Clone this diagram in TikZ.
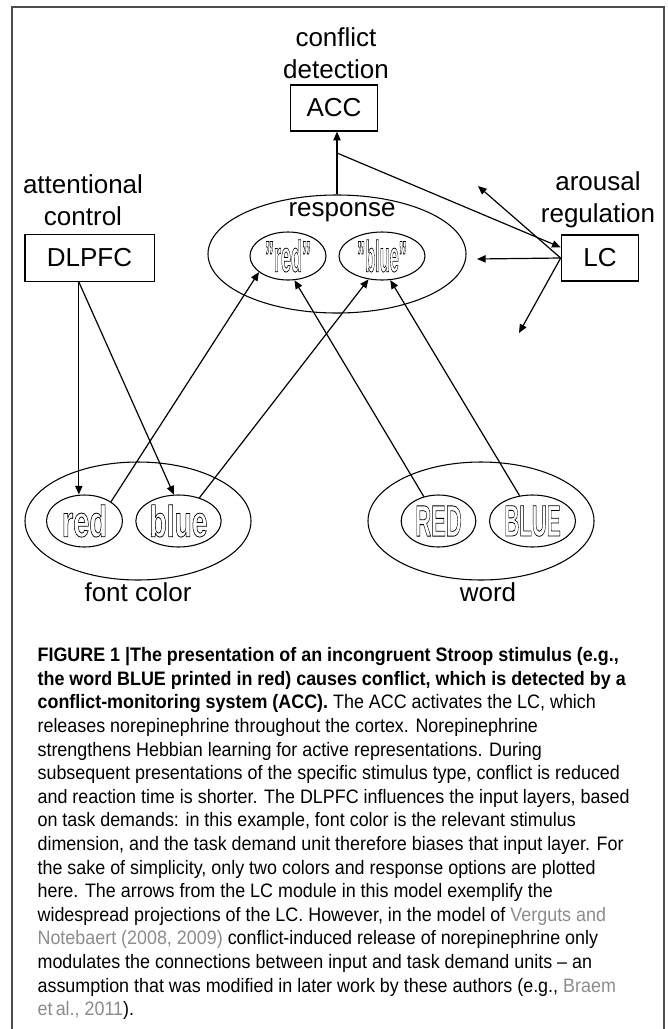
\documentclass[tikz,border=0pt]{standalone}
\usepackage{fontspec}
\setmainfont{Liberation Sans}
\newfontfamily\capfont[FakeStretch=0.92,Ligatures=TeX]{Liberation Sans}
\usepackage{graphicx}
\usetikzlibrary{arrows.meta,shapes.geometric}

\definecolor{citegray}{gray}{0.55}
\definecolor{framegray}{gray}{0.3}

\newcommand{\hollow}[2]{\scalebox{#1}[1]{\special{pdf:literal direct 1 Tr 0.6 w}#2\special{pdf:literal direct 0 Tr}}}

\tikzset{
  box/.style={draw, line width=1pt, inner sep=0pt},
  layer/.style={draw, ellipse, line width=0.8pt, inner sep=0pt, minimum width=169.5pt, minimum height=88.5pt},
  unit/.style={draw, ellipse, line width=0.8pt, inner sep=0pt},
  word/.style={font=\fontsize{33}{34}\selectfont\bfseries},
  lab/.style={align=center, font=\fontsize{19.5}{24}\selectfont},
}

\begin{document}
\begin{tikzpicture}[x=0.75pt, y=-0.75pt, line width=0.9pt, >={Triangle[length=6.5pt,width=5.5pt]}]
\useasboundingbox (0,0) rectangle (668,1029);
\draw[framegray, line width=1.1pt] (12,1029) -- (12,7) -- (664,7) -- (664,1029);

% top row
\node[lab] (acclab) at (336,53) {conflict\\detection};
\node[box, minimum width=65pt, minimum height=34.5pt, font=\fontsize{19.5}{22}\selectfont] (acc) at (334,108) {ACC};
\node[lab] (dlpfclab) at (83,200) {attentional\\control};
\node[box, minimum width=97pt, minimum height=35pt, font=\fontsize{19.5}{22}\selectfont] (dlpfc) at (89.5,258) {DLPFC};
\node[lab] (lclab) at (598,200) {arousal\\regulation};
\node[box, minimum width=58pt, minimum height=34.5pt, font=\fontsize{19.5}{22}\selectfont] (lc) at (600,258) {LC};

% response layer
\node[draw, ellipse, line width=0.8pt, minimum width=193.5pt, minimum height=88.5pt] (resp) at (337,254) {};
\node[lab] (resplab) at (342,212) {response};
\node[unit, minimum width=57pt, minimum height=36pt, label={[word]center:\hollow{0.41}{"red"}}] (rred) at (288,256) {};
\node[unit, minimum width=64.5pt, minimum height=36pt, label={[word]center:\hollow{0.37}{"blue"}}] (rblue) at (382,256) {};

% input layers
\node[layer] (font) at (138,521) {};
\node[unit, minimum width=57pt, minimum height=39pt, label={[word]center:\hollow{0.66}{red}}] (fred) at (84.5,521) {};
\node[unit, minimum width=64pt, minimum height=39pt, label={[word]center:\hollow{0.64}{blue}}] (fblue) at (178.5,521) {};
\node[lab] (fontlab) at (138,592) {font color};
\node[layer] (wordlayer) at (481,521) {};
\node[unit, minimum width=56pt, minimum height=39pt, label={[word]center:\hollow{0.50}{RED}}] (wred) at (438.5,521) {};
\node[unit, minimum width=64.5pt, minimum height=39pt, label={[word]center:\hollow{0.47}{BLUE}}] (wblue) at (532.5,521) {};
\node[lab] (wordlab) at (488,592) {word};

% connections
\draw[->] (resp.north) -- (resp.north |- acc.south);
\coordinate (fork) at (337,153);
\draw[->] (fork) -- ([yshift=8pt]lc.west);
\coordinate (lcup) at (478,186);
\coordinate (lcmid) at (477,259);
\coordinate (lcdown) at (519,333);
\draw[->] (lc.west) -- (lcup);
\draw[->] (lc.west) -- (lcmid);
\draw[->] (lc.west) -- (lcdown);
\coordinate (dl) at ([xshift=-8pt]dlpfc.south);
\draw[->] (dl) -- (dl |- fred.north);
\draw[->] (dl) -- (fblue.100);
\draw[->] (fred.36) -- (rred.209);
\draw[->] (fblue.48) -- (rblue.240);
\draw[->] (wred.121) -- (rred.285);
\draw[->] (wblue.117) -- (rblue.289);

% caption
\node[anchor=north west, inner sep=0pt, align=left, font=\capfont\fontsize{14.6}{17.7}\selectfont] (caption) at (37,647) {%
\textbf{FIGURE 1 |The presentation of an incongruent Stroop stimulus (e.g.,}\\
\textbf{the word BLUE printed in red) causes conflict, which is detected by a}\\
\textbf{conflict-monitoring system (ACC).} The ACC activates the LC, which\\
releases norepinephrine throughout the cortex. Norepinephrine\\
strengthens Hebbian learning for active representations. During\\
subsequent presentations of the specific stimulus type, conflict is reduced\\
and reaction time is shorter. The DLPFC influences the input layers, based\\
on task demands: in this example, font color is the relevant stimulus\\
dimension, and the task demand unit therefore biases that input layer. For\\
the sake of simplicity, only two colors and response options are plotted\\
here. The arrows from the LC module in this model exemplify the\\
widespread projections of the LC. However, in the model of \textcolor{citegray}{Verguts and}\\
\textcolor{citegray}{Notebaert (2008, 2009)} conflict-induced release of norepinephrine only\\
modulates the connections between input and task demand units – an\\
assumption that was modified in later work by these authors (e.g., \textcolor{citegray}{Braem}\\
\textcolor{citegray}{et\,al., 2011}).};
\end{tikzpicture}
\end{document}
